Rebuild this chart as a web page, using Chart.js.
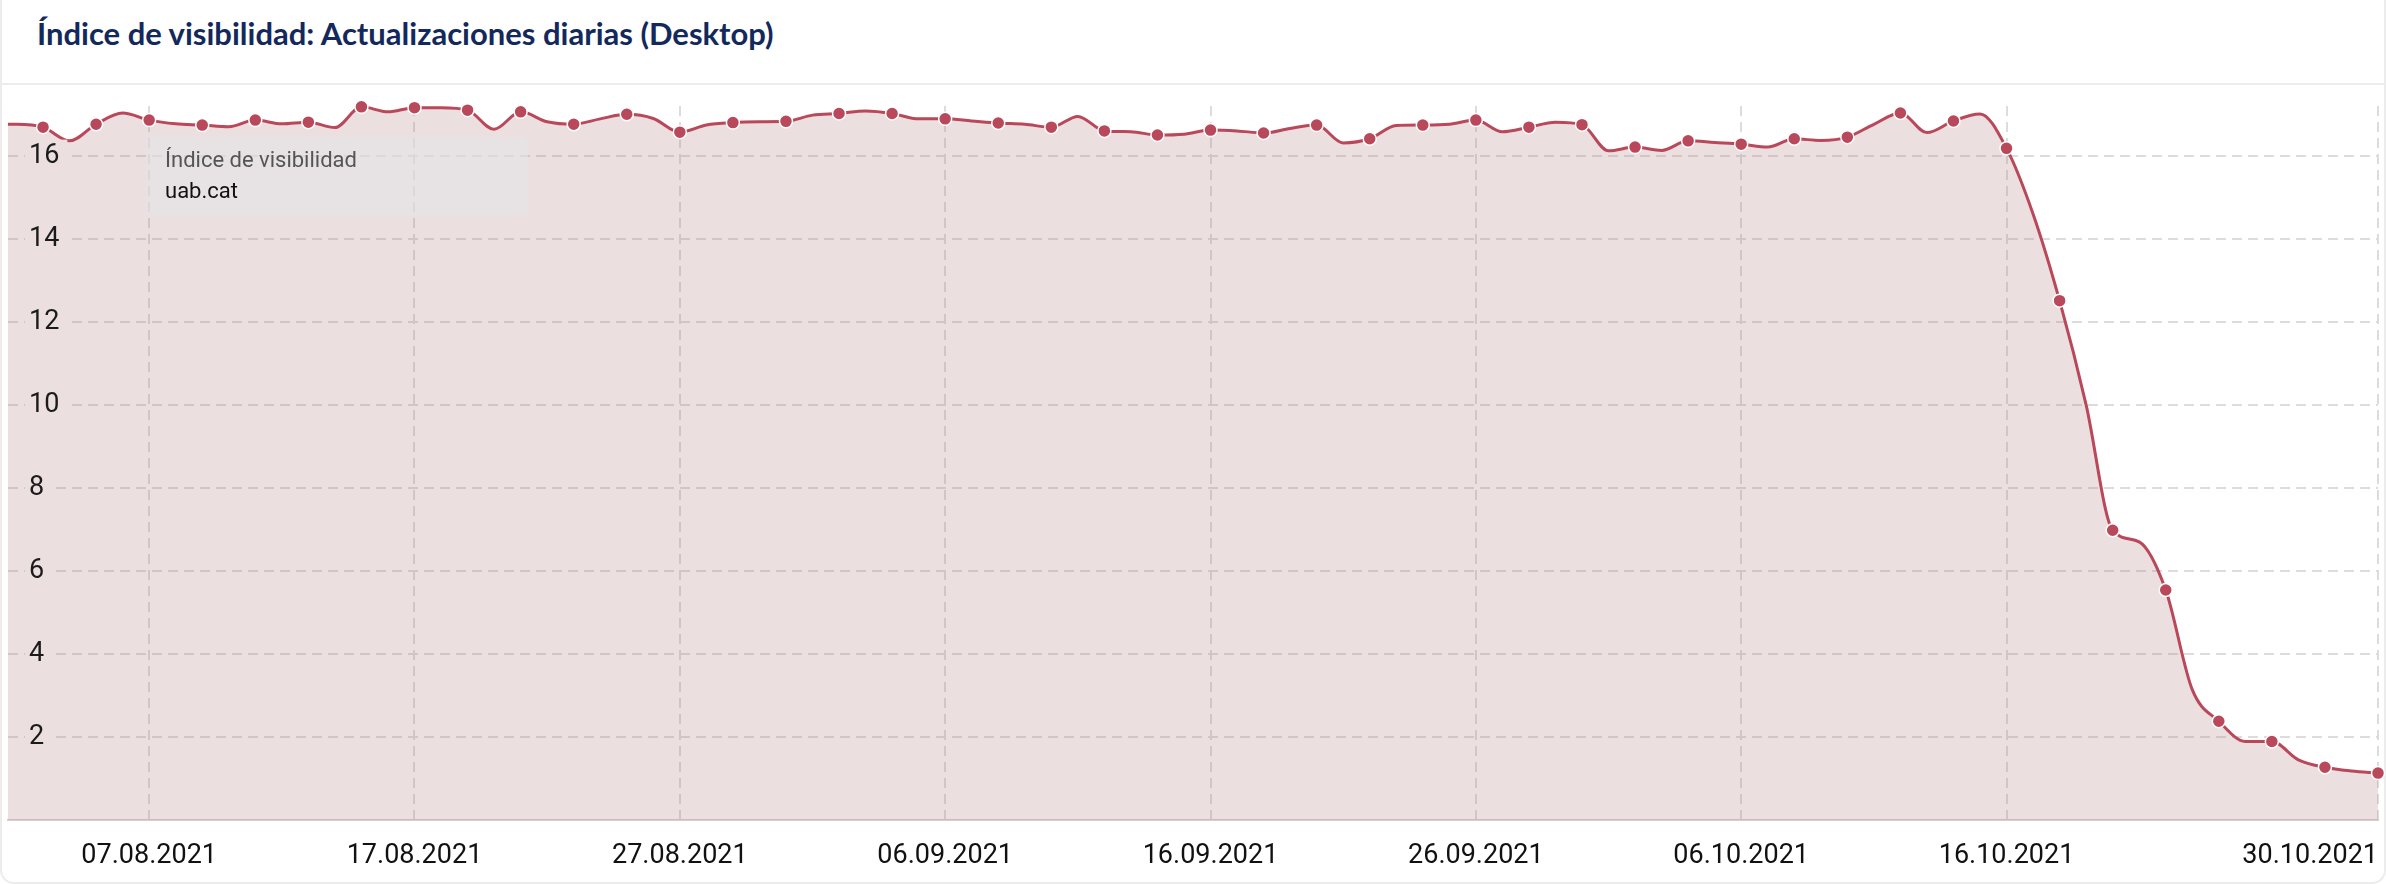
<!DOCTYPE html>
<html lang="es">
<head>
<meta charset="utf-8">
<title>Índice de visibilidad</title>
<script src="https://cdn.jsdelivr.net/npm/chart.js@4.4.1/dist/chart.umd.min.js"></script>
<style>
    html, body { margin: 0; padding: 0; background: #fff; }
    body { width: 2386px; height: 884px; position: relative; overflow: hidden; font-family: Roboto, "Liberation Sans", sans-serif; }
    .card { position: absolute; left: 0; top: -20px; width: 2386px; height: 904px; box-sizing: border-box; border: 2px solid #ececec; border-radius: 14px; background: #fff; }
    .titulo { position: absolute; left: 37px; top: 12px; margin: 0; font: 700 31px Lato, sans-serif; line-height: 42px; color: #13295b; white-space: nowrap; }
    .separador { position: absolute; left: 2px; right: 2px; top: 83px; height: 2px; background: #ececec; }
    #grafico { position: absolute; left: 0; top: 0; }
    .leyenda { position: absolute; left: 146px; top: 137px; width: 382px; height: 79px; box-sizing: border-box; padding: 7px 0 0 19px; border-radius: 6px; background: rgba(228, 228, 228, 0.6); font-size: 22px; line-height: 31px; }
    .leyenda .metrica { color: #555; }
    .leyenda .dominio { color: #111; }
</style>
</head>
<body>
<div class="card"></div>
<h2 class="titulo">Índice de visibilidad: Actualizaciones diarias (Desktop)</h2>
<div class="separador"></div>
<canvas id="grafico" width="2386" height="884"></canvas>
<div class="leyenda">
    <div class="metrica">Índice de visibilidad</div>
    <div class="dominio">uab.cat</div>
</div>
<script>
// Fechas (una por día)
const fechas = [
    '01.08.2021', '02.08.2021', '03.08.2021', '04.08.2021', '05.08.2021', '06.08.2021', '07.08.2021', '08.08.2021', '09.08.2021', '10.08.2021',
    '11.08.2021', '12.08.2021', '13.08.2021', '14.08.2021', '15.08.2021', '16.08.2021', '17.08.2021', '18.08.2021', '19.08.2021', '20.08.2021',
    '21.08.2021', '22.08.2021', '23.08.2021', '24.08.2021', '25.08.2021', '26.08.2021', '27.08.2021', '28.08.2021', '29.08.2021', '30.08.2021', '31.08.2021',
    '01.09.2021', '02.09.2021', '03.09.2021', '04.09.2021', '05.09.2021', '06.09.2021', '07.09.2021', '08.09.2021', '09.09.2021', '10.09.2021',
    '11.09.2021', '12.09.2021', '13.09.2021', '14.09.2021', '15.09.2021', '16.09.2021', '17.09.2021', '18.09.2021', '19.09.2021', '20.09.2021',
    '21.09.2021', '22.09.2021', '23.09.2021', '24.09.2021', '25.09.2021', '26.09.2021', '27.09.2021', '28.09.2021', '29.09.2021', '30.09.2021',
    '01.10.2021', '02.10.2021', '03.10.2021', '04.10.2021', '05.10.2021', '06.10.2021', '07.10.2021', '08.10.2021', '09.10.2021', '10.10.2021',
    '11.10.2021', '12.10.2021', '13.10.2021', '14.10.2021', '15.10.2021', '16.10.2021', '17.10.2021', '18.10.2021', '19.10.2021', '20.10.2021',
    '21.10.2021', '22.10.2021', '23.10.2021', '24.10.2021', '25.10.2021', '26.10.2021', '27.10.2021', '28.10.2021', '29.10.2021', '30.10.2021'
];

// Índice de visibilidad uab.cat
const visibilidad = [
    16.76, 16.76, 16.69, 16.36, 16.76, 17.03, 16.86, 16.77, 16.74, 16.70,
    16.86, 16.77, 16.81, 16.68, 17.18, 17.06, 17.16, 17.16, 17.10, 16.64,
    17.06, 16.82, 16.76, 16.89, 17.00, 16.90, 16.57, 16.74, 16.80, 16.82, 16.83,
    16.98, 17.02, 17.08, 17.02, 16.89, 16.89, 16.84, 16.79, 16.76, 16.69,
    16.95, 16.60, 16.58, 16.50, 16.52, 16.62, 16.60, 16.55, 16.66, 16.74,
    16.31, 16.41, 16.73, 16.74, 16.76, 16.86, 16.58, 16.69, 16.81, 16.75,
    16.12, 16.21, 16.13, 16.36, 16.32, 16.28, 16.21, 16.41, 16.37, 16.45,
    16.76, 17.03, 16.56, 16.84, 17.01, 16.18, 14.60, 12.51, 10.00, 6.98,
    6.70, 5.54, 3.14, 2.38, 1.89, 1.89, 1.45, 1.27, 1.18, 1.13
];

// Etiquetas de los ejes
const fechasEje = ['', '07.08.2021', '17.08.2021', '27.08.2021', '06.09.2021', '16.09.2021', '26.09.2021', '06.10.2021', '16.10.2021', '30.10.2021'];
const valoresEjeY = [2, 4, 6, 8, 10, 12, 14, 16];

const COLOR_LINEA = '#b8485a';
const COLOR_GRID = '#dcdcdc';
const inicioVista = 0.68;

const ctx = document.getElementById('grafico');

if (ctx) {
    const puntos = visibilidad.map((v, i) => ({ x: i, y: v }));

    new Chart(ctx, {
        type: 'line',
        data: {
            datasets: [{
                label: 'uab.cat',
                data: puntos,
                borderColor: COLOR_LINEA,
                borderWidth: 3,
                backgroundColor: 'rgba(179, 127, 131, 0.25)',
                fill: 'origin',
                cubicInterpolationMode: 'monotone',
                // marcador solo cada dos días
                pointRadius: (c) => c.dataIndex % 2 === 0 ? 6.5 : 0,
                pointBackgroundColor: COLOR_LINEA,
                pointBorderColor: '#fff',
                pointBorderWidth: 1.5,
                clip: { left: 0, top: 14, right: 14, bottom: 0 }
            }]
        },
        options: {
            responsive: false,
            animation: false,
            devicePixelRatio: 1,
            layout: {
                padding: { left: 4, top: 106, right: 8, bottom: 0 }
            },
            plugins: {
                legend: { display: false },
                tooltip: { enabled: false }
            },
            scales: {
                x: {
                    type: 'linear',
                    min: inicioVista,
                    max: fechas.length - 1,
                    afterBuildTicks: function (s) {
                        s.ticks = fechasEje.map(f => ({ value: f === '' ? inicioVista : fechas.indexOf(f) }));
                    },
                    afterFit: function (s) {
                        s.height = 64;
                        s.paddingLeft = 0;
                        s.paddingRight = 0;
                    },
                    ticks: {
                        autoSkip: false,
                        maxRotation: 0,
                        align: 'inner',
                        padding: 20,
                        color: '#111',
                        font: { family: 'Roboto', size: 27 },
                        callback: function (value) {
                            const i = fechas.indexOf(fechasEje.find(f => fechas.indexOf(f) === value));
                            return i >= 0 ? fechas[i] : '';
                        }
                    },
                    grid: {
                        color: (c) => c.index === 0 ? 'rgba(0,0,0,0)' : COLOR_GRID,
                        lineWidth: 2,
                        drawTicks: false
                    },
                    border: { display: true, color: '#d9cfd1', width: 2, dash: [10, 6] }
                },
                y: {
                    min: 0,
                    max: 17.2,
                    afterBuildTicks: function (s) {
                        s.ticks = valoresEjeY.map(v => ({ value: v }));
                    },
                    afterFit: function (s) {
                        s.width = 0;
                        s.paddingTop = 0;
                        s.paddingBottom = 0;
                    },
                    ticks: {
                        mirror: true,
                        padding: 21,
                        z: 1,
                        color: '#1b1b1b',
                        font: { family: 'Roboto', size: 27 },
                        showLabelBackdrop: true,
                        backdropColor: '#ecdfe0',
                        backdropPadding: { left: 4, right: 8, top: 0, bottom: 0 }
                    },
                    grid: {
                        color: COLOR_GRID,
                        lineWidth: 2,
                        drawTicks: false
                    },
                    border: { display: false, dash: [10, 6] }
                }
            }
        }
    });
}
</script>
</body>
</html>
